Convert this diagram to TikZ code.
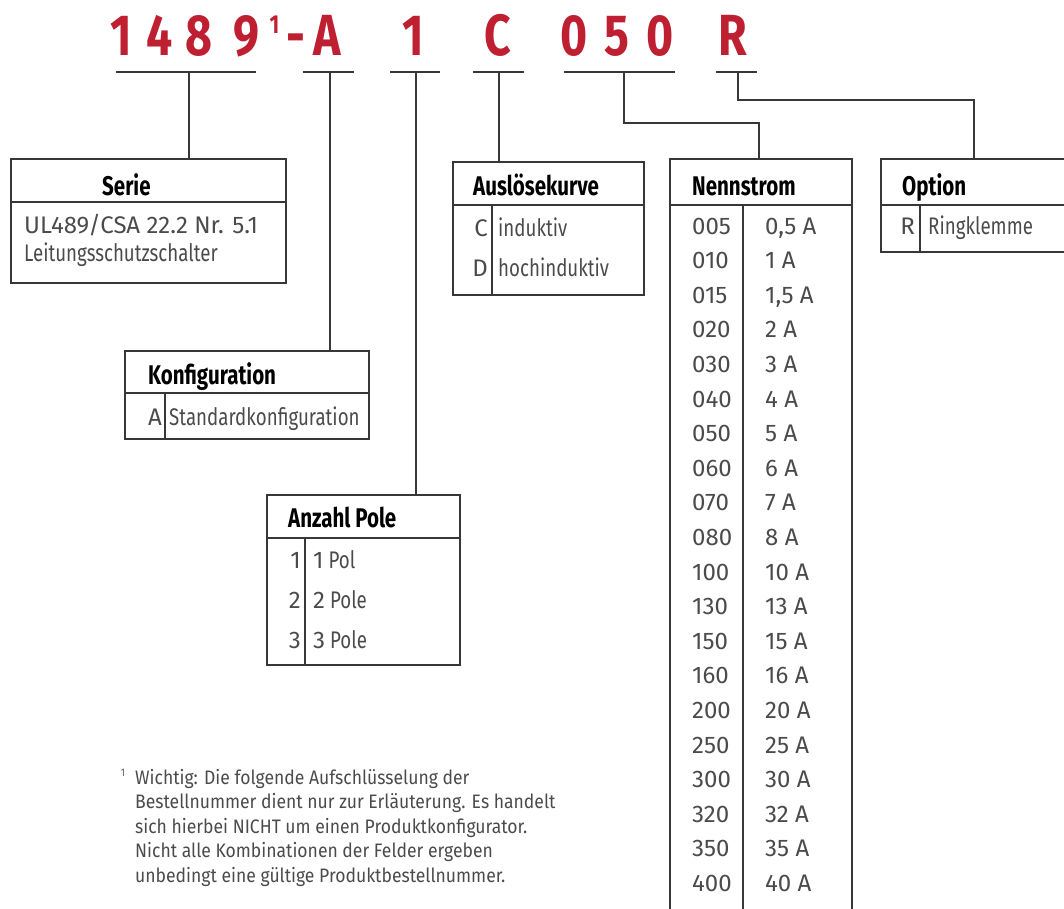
\documentclass[tikz,border=0pt]{standalone}
\usepackage{fontspec}
\setmainfont{Fira Sans}[FakeStretch=0.78]
\newfontfamily\numfont{Fira Sans}[FakeStretch=1.0]
\newfontfamily\headfont{Fira Sans}[FakeStretch=0.76]
\newfontfamily\notefont{Fira Sans}[FakeStretch=0.9]
\newfontfamily\codefont{Fira Sans}[FakeStretch=0.8]
\definecolor{codered}{RGB}{190,32,50}
\definecolor{linegray}{RGB}{55,55,55}
\definecolor{textgray}{RGB}{75,75,75}
\tikzset{
	rule/.style={draw=linegray, line width=1.4pt},
	code/.style={font=\codefont\bfseries\fontsize{58}{58}\selectfont, text=codered, anchor=base, inner sep=0pt},
	codesup/.style={font=\codefont\bfseries\fontsize{26}{26}\selectfont, text=codered, anchor=base, inner sep=0pt},
	head/.style={font=\headfont\bfseries\fontsize{27}{27}\selectfont, anchor=base west, inner sep=0pt},
	entry/.style={font=\fontsize{24}{24}\selectfont, text=textgray, anchor=base west, inner sep=0pt},
	numentry/.style={entry, font=\numfont\fontsize{24}{24}\selectfont},
	key/.style={font=\numfont\fontsize{24}{24}\selectfont, text=textgray, anchor=base east, inner sep=0pt},
	note/.style={font=\notefont\fontsize{19.5}{24.5}\selectfont, text=textgray, anchor=north west, inner sep=0pt, align=left}
}

\begin{document}
\begin{tikzpicture}[x=1pt, y=-1pt]
		%%%%% START %%%%%
		\useasboundingbox (0, 0) rectangle (1064, 908);
		
		% order code
		\node[code] (c1) at (121, 55) {1};
		\node[code] (c4) at (160, 55) {4};
		\node[code] (c8) at (199, 55) {8};
		\node[code] (c9) at (246, 55) {9};
		\node[codesup] (csup) at (274.5, 33) {1};
		\node[code] (cdash) at (296, 55) {-};
		\node[code] (cA) at (327.5, 55) {A};
		\node[code] (cpole) at (413.5, 55) {1};
		\node[code] (cC) at (497.5, 55) {C};
		\node[code] (c0a) at (574, 55) {0};
		\node[code] (c5) at (616.5, 55) {5};
		\node[code] (c0b) at (660.5, 55) {0};
		\node[code] (cR) at (733, 55) {R};
		
		% underlines and stems
		\coordinate (uSerL) at (116, 72);  \coordinate (uSerR) at (256, 72);  \coordinate (uSer) at (189, 72);
		\coordinate (uKonL) at (303, 72);  \coordinate (uKonR) at (354, 72);  \coordinate (uKon) at (330, 72);
		\coordinate (uPolL) at (390, 72);  \coordinate (uPolR) at (440, 72);  \coordinate (uPol) at (416, 72);
		\coordinate (uKurL) at (473, 72);  \coordinate (uKurR) at (524, 72);  \coordinate (uKur) at (499, 72);
		\coordinate (uStrL) at (564, 72);  \coordinate (uStrR) at (675, 72);  \coordinate (uStr) at (624, 72);
		\coordinate (uOptL) at (716, 72);  \coordinate (uOptR) at (757, 72);  \coordinate (uOpt) at (738, 72);
		
		\coordinate (serieTop) at (189, 159);
		\coordinate (konfTop) at (330, 351);
		\coordinate (poleTop) at (416, 495);
		\coordinate (kurveTop) at (499, 162);
		\coordinate (stromTop) at (759, 159);
		\coordinate (optTop) at (974, 159);
		
		\draw[rule] (uSerL) -- (uSerR);
		\draw[rule] (uKonL) -- (uKonR);
		\draw[rule] (uPolL) -- (uPolR);
		\draw[rule] (uKurL) -- (uKurR);
		\draw[rule] (uStrL) -- (uStrR);
		\draw[rule] (uOptL) -- (uOptR);
		
		\draw[rule] (uSer) -- (serieTop);
		\draw[rule] (uKon) -- (konfTop);
		\draw[rule] (uPol) -- (poleTop);
		\draw[rule] (uKur) -- (kurveTop);
		\draw[rule] (uStr) |- (759, 123) -- (stromTop);
		\draw[rule] (uOpt) |- (974, 100) -- (optTop);
		
		% Serie
		\draw[rule] (11, 159) rectangle (286, 283);
		\draw[rule] (11, 202) -- (286, 202);
		\node[head] (serieHead) at (102, 195) {Serie};
		\node[numentry] (serie1) at (24, 233) {UL489/CSA 22.2 Nr. 5.1};
		\node[entry] (serie2) at (24, 261) {Leitungsschutzschalter};
		
		% Konfiguration
		\draw[rule] (125, 351) rectangle (369, 439);
		\draw[rule] (125, 393) -- (369, 393);
		\draw[rule] (165, 393) -- (165, 439);
		\node[head] (konfHead) at (148, 384) {Konfiguration};
		\node[key] (konfA) at (162, 425) {A};
		\node[entry] (konfAtxt) at (169, 425) {Standardkonfiguration};
		
		% Anzahl Pole
		\draw[rule] (267, 495) rectangle (460, 665);
		\draw[rule] (267, 538) -- (460, 538);
		\draw[rule] (305, 538) -- (305, 665);
		\node[head] (poleHead) at (288, 527) {Anzahl Pole};
		\node[key] (pole1) at (301, 568) {1};
		\node[entry] (pole1txt) at (313, 568) {{\numfont 1} Pol};
		\node[key] (pole2) at (301, 608) {2};
		\node[entry] (pole2txt) at (313, 608) {{\numfont 2} Pole};
		\node[key] (pole3) at (301, 648) {3};
		\node[entry] (pole3txt) at (313, 648) {{\numfont 3} Pole};
		
		% Ausloesekurve
		\draw[rule] (453, 162) rectangle (644, 295);
		\draw[rule] (453, 205) -- (644, 205);
		\draw[rule] (492, 205) -- (492, 295);
		\node[head] (kurveHead) at (473, 195) {Auslösekurve};
		\node[key] (kurveC) at (488, 236) {C};
		\node[entry] (kurveCtxt) at (498, 236) {induktiv};
		\node[key] (kurveD) at (488, 276) {D};
		\node[entry] (kurveDtxt) at (498, 276) {hochinduktiv};
		
		% Nennstrom
		\draw[rule] (670, 925) -- (670, 159) -- (852, 159) -- (852, 925);
		\draw[rule] (670, 205) -- (852, 205);
		\draw[rule] (743, 205) -- (743, 925);
		\node[head] (stromHead) at (692, 195) {Nennstrom};
		\node[numentry] (s005) at (692, 234) {005};    \node[numentry] (a005) at (765, 234) {0,5 A};
		\node[numentry] (s010) at (692, 268.6) {010};  \node[numentry] (a010) at (765, 268.6) {1 A};
		\node[numentry] (s015) at (692, 303.2) {015};  \node[numentry] (a015) at (765, 303.2) {1,5 A};
		\node[numentry] (s020) at (692, 337.8) {020};  \node[numentry] (a020) at (765, 337.8) {2 A};
		\node[numentry] (s030) at (692, 372.4) {030};  \node[numentry] (a030) at (765, 372.4) {3 A};
		\node[numentry] (s040) at (692, 407) {040};    \node[numentry] (a040) at (765, 407) {4 A};
		\node[numentry] (s050) at (692, 441.6) {050};  \node[numentry] (a050) at (765, 441.6) {5 A};
		\node[numentry] (s060) at (692, 476.2) {060};  \node[numentry] (a060) at (765, 476.2) {6 A};
		\node[numentry] (s070) at (692, 510.8) {070};  \node[numentry] (a070) at (765, 510.8) {7 A};
		\node[numentry] (s080) at (692, 545.4) {080};  \node[numentry] (a080) at (765, 545.4) {8 A};
		\node[numentry] (s100) at (692, 580) {100};    \node[numentry] (a100) at (765, 580) {10 A};
		\node[numentry] (s130) at (692, 614.6) {130};  \node[numentry] (a130) at (765, 614.6) {13 A};
		\node[numentry] (s150) at (692, 649.2) {150};  \node[numentry] (a150) at (765, 649.2) {15 A};
		\node[numentry] (s160) at (692, 683.8) {160};  \node[numentry] (a160) at (765, 683.8) {16 A};
		\node[numentry] (s200) at (692, 718.4) {200};  \node[numentry] (a200) at (765, 718.4) {20 A};
		\node[numentry] (s250) at (692, 753) {250};    \node[numentry] (a250) at (765, 753) {25 A};
		\node[numentry] (s300) at (692, 787.6) {300};  \node[numentry] (a300) at (765, 787.6) {30 A};
		\node[numentry] (s320) at (692, 822.2) {320};  \node[numentry] (a320) at (765, 822.2) {32 A};
		\node[numentry] (s350) at (692, 856.8) {350};  \node[numentry] (a350) at (765, 856.8) {35 A};
		\node[numentry] (s400) at (692, 891.4) {400};  \node[numentry] (a400) at (765, 891.4) {40 A};
		
		% Option
		\draw[rule] (1070, 252) -- (881, 252) -- (881, 159) -- (1070, 159);
		\draw[rule] (881, 205) -- (1070, 205);
		\draw[rule] (920, 205) -- (920, 252);
		\node[head] (optHead) at (902, 195) {Option};
		\node[key] (optR) at (915, 234) {R};
		\node[entry] (optRtxt) at (928, 234) {Ringklemme};
		
		% footnote
		\node[font=\fontsize{11}{11}\selectfont, text=textgray, anchor=base west, inner sep=0pt] (noteSup) at (121, 776) {1};
		\node[note] (noteText) at (135, 769) {Wichtig: Die folgende Aufschlüsselung der\\Bestellnummer dient nur zur Erläuterung. Es handelt\\sich hierbei NICHT um einen Produktkonfigurator.\\Nicht alle Kombinationen der Felder ergeben\\unbedingt eine gültige Produktbestellnummer.};
		%%%%% END %%%%%
	\end{tikzpicture}
\end{document}
